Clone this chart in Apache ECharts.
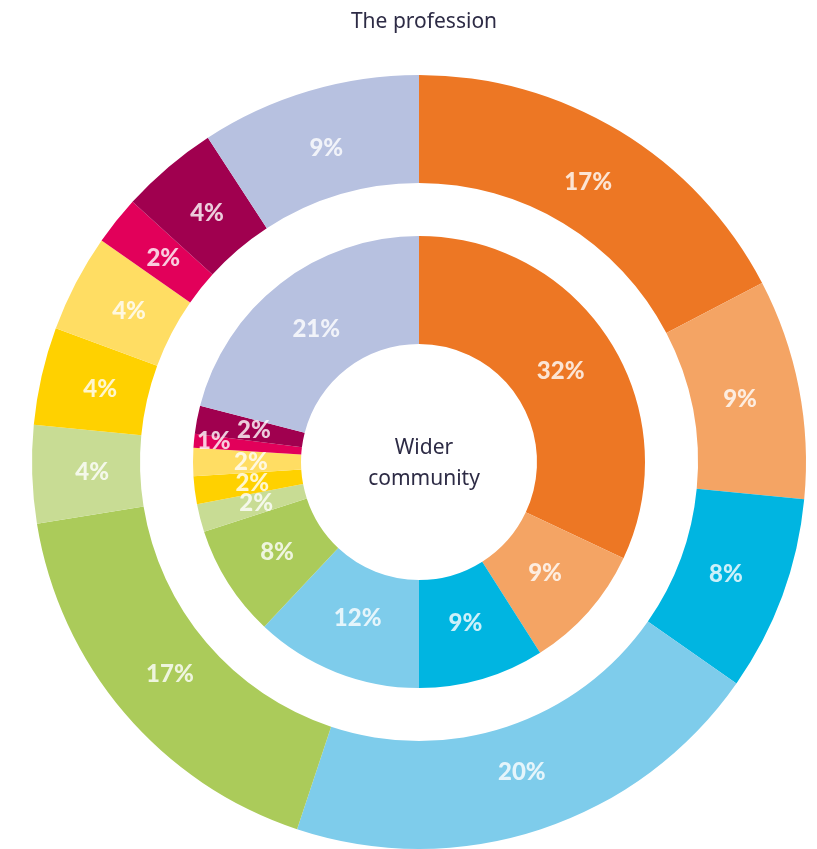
<!DOCTYPE html>
<html>
<head>
<meta charset="utf-8">
<script src="https://cdn.jsdelivr.net/npm/echarts@6/dist/echarts.min.js"></script>
<style>
	html, body { margin: 0; padding: 0; background: #fff; }
	#chart { width: 817px; height: 849px; }
</style>
</head>
<body>
<div id="chart"></div>
<script>
// segments, clockwise from 12 o'clock
var segmentNames = ['S1', 'S2', 'S3', 'S4', 'S5', 'S6', 'S7', 'S8', 'S9', 'S10', 'S11'];
var professionValues = [17, 9, 8, 20, 17, 4, 4, 4, 2, 4, 9];
var communityValues = [32, 9, 9, 12, 8, 2, 2, 2, 1, 2, 21];
var segmentColors = ['#ED7724', '#F4A464', '#00B5E1', '#7ECCEB', '#ABCB5A', '#C8DC94',
	'#FFD100', '#FFDD63', '#E2005A', '#A0004F', '#B7C1E0'];

var outerTitle = 'The profession';
var innerTitle = 'Wider\ncommunity';

var cx = 419, cy = 462;

function buildData(values) {
	var out = [];
	for (var i = 0; i < values.length; i++) {
		out.push({ name: segmentNames[i], value: values[i], itemStyle: { color: segmentColors[i] } });
	}
	return out;
}

// pull labels a few px toward the centre
function pullIn(params, amount) {
	var r = params.rect;
	var x = r.x + r.width / 2 - cx, y = r.y + r.height / 2 - cy;
	var d = Math.sqrt(x * x + y * y) || 1;
	return { dx: -x / d * amount, dy: -y / d * amount };
}

var labelStyle = {
	show: true,
	position: 'inside',
	formatter: '{c}%',
	color: 'rgba(255,255,255,0.8)',
	fontFamily: 'Lato',
	fontWeight: 900,
	fontSize: 24
};

var chart = echarts.init(document.getElementById('chart'));
var option = {
	animation: false,
	title: [
		{
			text: outerTitle,
			left: cx, top: 7, textAlign: 'center',
			textStyle: { fontFamily: 'Noto Sans', fontWeight: 'normal', fontSize: 21, color: '#2d2b45' }
		},
		{
			text: innerTitle,
			left: cx, top: 428, textAlign: 'center',
			textStyle: { fontFamily: 'Noto Sans', fontWeight: 'normal', fontSize: 21, color: '#2d2b45', lineHeight: 31 }
		}
	],
	series: [
		{
			type: 'pie',
			center: [cx, cy],
			radius: [279, 387],
			startAngle: 90,
			clockwise: true,
			label: labelStyle,
			labelLine: { show: false },
			emphasis: { disabled: true },
			labelLayout: function (params) {
				return pullIn(params, 9);
			},
			data: buildData(professionValues)
		},
		{
			type: 'pie',
			center: [cx, cy],
			radius: [118, 226],
			startAngle: 90,
			clockwise: true,
			label: labelStyle,
			labelLine: { show: false },
			emphasis: { disabled: true },
			labelLayout: function (params) {
				// the 1% slice label sits further out
				if (params.dataIndex === 8) {
					return { dx: -31, dy: -4 };
				}
				return pullIn(params, 7);
			},
			data: buildData(communityValues)
		}
	]
};
chart.setOption(option);
</script>
</body>
</html>
